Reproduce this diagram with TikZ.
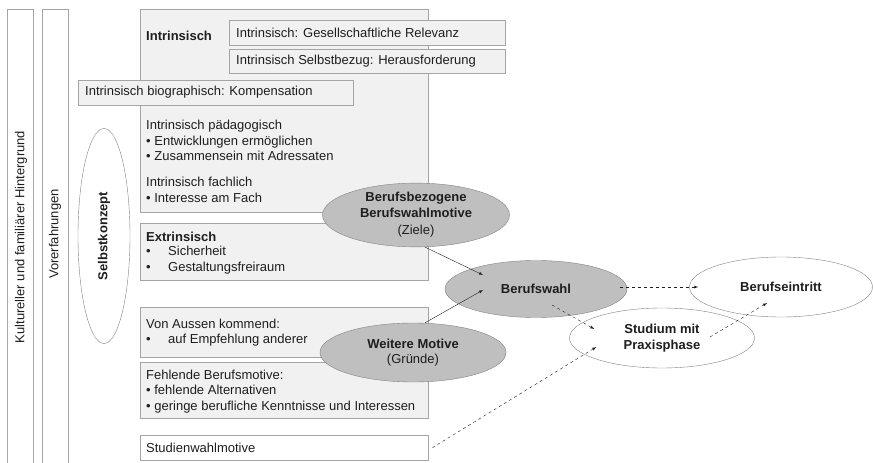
\documentclass[tikz,border=0pt]{standalone}
\usepackage{fontspec}
\setmainfont{Liberation Sans}
\usetikzlibrary{shapes.geometric,calc}

\definecolor{boxfill}{RGB}{241,241,242}
\definecolor{boxline}{RGB}{165,165,165}
\definecolor{ellfill}{RGB}{191,191,191}
\definecolor{ellline}{RGB}{130,130,130}
\definecolor{txt}{RGB}{30,30,30}

\newcommand\figfont{\fontsize{13}{15.5}\selectfont}

\tikzset{
  panel/.style={draw=boxline, fill=boxfill},
  column/.style={draw=boxline},
  txtline/.style={anchor=west, inner sep=0pt, align=left, text=txt, font=\figfont},
  head/.style={txtline, font=\figfont\bfseries},
  motiv/.style={ellipse, draw=ellline, fill=ellfill, inner sep=0pt, align=center,
                text=txt, font=\figfont\bfseries},
  goal/.style={motiv, fill=white},
  arr/.style={-latex, draw=txt},
  darr/.style={-latex, draw=txt, dashed}
}

\begin{document}
\begin{tikzpicture}[x=1pt,y=-1pt]
  \useasboundingbox (0,0) rectangle (873,463);

  % Rahmen links
  \draw[column] (7,463) -- (7,9) -- (33,9) -- (33,463);
  \node[txtline, anchor=center, rotate=90] (kultur) at (21,237) {Kultureller und familiärer Hintergrund};
  \draw[column] (42,463) -- (42,9) -- (68,9) -- (68,463);
  \node[txtline, anchor=center, rotate=90] (vorerf) at (55,234) {Vorerfahrungen};
  \node[goal, rotate=90, minimum width=215pt, minimum height=52pt] (selbst) at (104,236) {Selbstkonzept};

  % intrinsisch
  \draw[panel] (140,9) rectangle (428,212);
  \node[head] (intr) at (146,36) {Intrinsisch};
  \draw[panel] (229,20) rectangle (505,45);
  \node[txtline] (gesell) at (236,32.5) {Intrinsisch: Gesellschaftliche Relevanz};
  \draw[panel] (229,49) rectangle (505,73);
  \node[txtline] (selbstbez) at (236,61) {Intrinsisch Selbstbezug: Herausforderung};
  \draw[panel] (78,80) rectangle (353,105);
  \node[txtline] (biogr) at (85,92.5) {Intrinsisch biographisch: Kompensation};
  \node[txtline] (paed) at (146,140.5) {Intrinsisch pädagogisch\\• Entwicklungen ermöglichen\\• Zusammensein mit Adressaten};
  \node[txtline] (fach) at (146,190) {Intrinsisch fachlich\\• Interesse am Fach};

  % extrinsisch
  \draw[panel] (140,223) rectangle (428,280);
  \node[head] (extr) at (146,237) {Extrinsisch};
  \node[txtline] (extrlist) at (146,260) {\makebox[22pt][l]{•}Sicherheit\\\makebox[22pt][l]{•}Gestaltungsfreiraum};

  % weitere
  \draw[panel] (140,307) rectangle (428,357);
  \node[txtline] (aussen) at (146,332.5) {Von Aussen kommend:\\\makebox[22pt][l]{•}auf Empfehlung anderer};
  \draw[panel] (140,362) rectangle (428,418);
  \node[txtline] (fehl) at (146,391.5) {Fehlende Berufsmotive:\\• fehlende Alternativen\\• geringe berufliche Kenntnisse und Interessen};
  \node[draw=boxline, fill=white, anchor=north west, minimum width=288pt, minimum height=25pt,
        inner xsep=6pt, text width=276pt, align=left, text=txt, font=\figfont] (swm) at (140,435) {Studienwahlmotive};

  % Ellipsen
  \node[motiv, minimum width=187pt, minimum height=55pt] (bb) at (416,215)
    {Berufsbezogene\\Berufswahlmotive\\[2pt]{\mdseries (Ziele)}};
  \node[motiv, minimum width=186pt, minimum height=59pt] (wm) at (413,352.5)
    {Weitere Motive\\{\mdseries (Gründe)}};
  \node[motiv, minimum width=182pt, minimum height=57pt] (bw) at (536,289) {Berufswahl};
  \node[goal, minimum width=185pt, minimum height=60pt] (sp) at (662,338) {Studium mit\\Praxisphase};
  \node[goal, minimum width=183pt, minimum height=60pt] (be) at (781,287) {Berufseintritt};

  \draw[arr] ($(bb.south)+(9,0)$) -- ($(bw.center)+(-53,-14)$);
  \draw[arr] ($(wm.north)+(12,0)$) -- ($(bw.center)+(-53,1)$);
  \draw[darr] ($(bw.east)+(-7,-2)$) -- ($(be.west)+(9,0)$);
  \draw[darr] ($(bw.center)+(16,16)$) -- ($(sp.west)+(25,-9)$);
  \draw[darr] ($(swm.east)+(4,0)$) -- ($(sp.west)+(27,9)$);
  \draw[darr] ($(sp.center)+(48,-1)$) -- ($(be.center)+(-14,16)$);
\end{tikzpicture}
\end{document}
